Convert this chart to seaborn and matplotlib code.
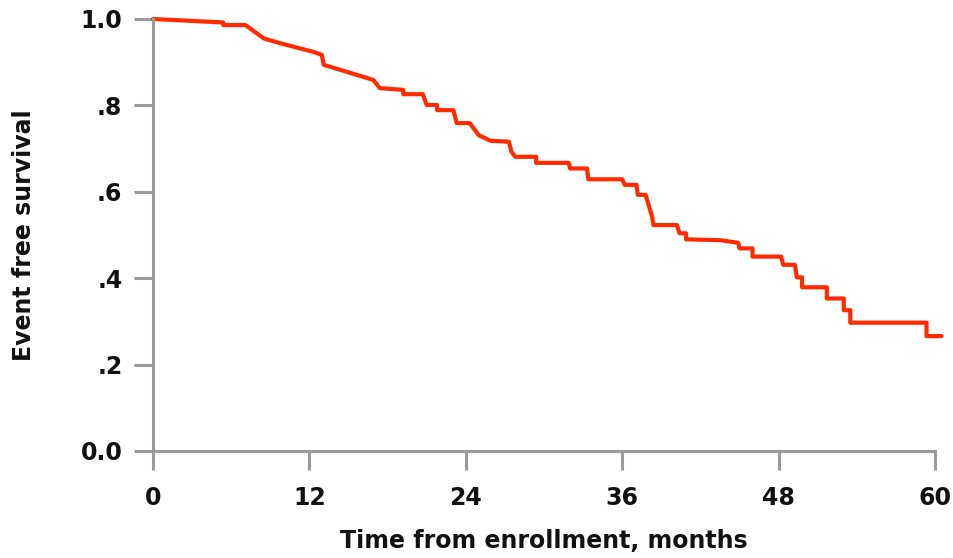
import matplotlib
matplotlib.use("Agg")
import matplotlib.pyplot as plt
import seaborn as sns
import pandas as pd

months = [0, 5.4, 5.4, 7.1, 8.5, 9.75, 12.3, 12.95, 13.1, 16.9, 17.4, 19.2, 19.2, 20.7,
          21.0, 21.8, 21.8, 23.05, 23.3, 24.3, 25.0, 25.9, 27.3, 27.5, 27.8, 29.4, 29.4,
          31.9, 32.0, 33.3, 33.4, 36.0, 36.2, 37.1, 37.2, 37.8, 38.3, 38.4, 40.2, 40.4,
          40.9, 40.9, 43.5, 44.9, 45.0, 46.0, 46.0, 48.2, 48.35, 49.25, 49.4, 49.8, 49.8,
          51.7, 51.7, 53.0, 53.0, 53.5, 53.5, 59.35, 59.35, 60.5]
survival = [1.0, 0.992, 0.986, 0.986, 0.955, 0.944, 0.924, 0.917, 0.894, 0.859, 0.840,
            0.836, 0.826, 0.826, 0.801, 0.801, 0.789, 0.789, 0.759, 0.759, 0.731, 0.718,
            0.716, 0.693, 0.681, 0.681, 0.667, 0.667, 0.654, 0.654, 0.629, 0.629, 0.616,
            0.616, 0.593, 0.593, 0.542, 0.523, 0.523, 0.504, 0.504, 0.490, 0.488, 0.482,
            0.469, 0.469, 0.450, 0.450, 0.431, 0.431, 0.402, 0.402, 0.379, 0.379, 0.353,
            0.353, 0.326, 0.326, 0.297, 0.297, 0.266, 0.266]
x_ticks = [0, 12, 24, 36, 48, 60]
x_tick_labels = ["0", "12", "24", "36", "48", "60"]
y_ticks = [0.0, 0.2, 0.4, 0.6, 0.8, 1.0]
y_tick_labels = ["0.0", ".2", ".4", ".6", ".8", "1.0"]

sns.set_style("white")
plt.rcParams['font.family'] = ['DejaVu Sans']

df = pd.DataFrame({"month": months, "surv": survival})

fig = plt.figure(figsize=(9.54, 5.58), dpi=100)
ax = fig.add_axes([153 / 954, 1 - 451 / 558, (935 - 153) / 954, (451 - 19) / 558])

sns.lineplot(data=df, x="month", y="surv", sort=False, estimator=None,
             color="#ff2a00", linewidth=3.0, ax=ax, clip_on=False)

ax.set_xlim(0, 60)
ax.set_ylim(0, 1.0)
ax.set_xticks(x_ticks)
ax.set_xticklabels(x_tick_labels)
ax.set_yticks(y_ticks)
ax.set_yticklabels(y_tick_labels)

for s in ["top", "right"]:
    ax.spines[s].set_visible(False)
for s in ["left", "bottom"]:
    ax.spines[s].set_color("#9a9a9a")
    ax.spines[s].set_linewidth(2.2)

ax.tick_params(axis="both", which="major", bottom=True, left=True, direction="out",
               length=14, width=2.2, color="#9a9a9a", labelsize=17, labelcolor="#111111")
ax.tick_params(axis="x", pad=11)
ax.tick_params(axis="y", pad=8)
for lab in ax.get_xticklabels() + ax.get_yticklabels():
    lab.set_fontweight("bold")

ax.set_xlabel("Time from enrollment, months", fontsize=17, fontweight="bold",
              color="#111111", labelpad=14)
ax.set_ylabel("Event free survival", fontsize=17, fontweight="bold",
              color="#111111", labelpad=32)

fig.savefig("out.png", dpi=100)
